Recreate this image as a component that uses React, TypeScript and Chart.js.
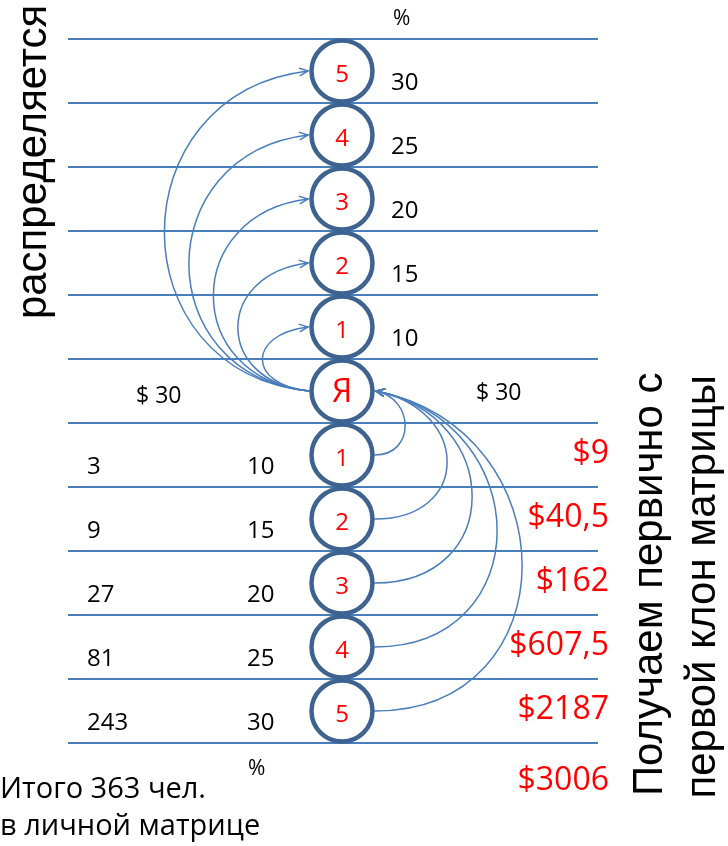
import { useEffect, useRef } from "react";
import { Chart, registerables } from "chart.js";

Chart.register(...registerables);

// ---- data ----
const upperLevels = ["5", "4", "3", "2", "1"];
const centreLabel = "Я";
const lowerLevels = ["1", "2", "3", "4", "5"];
const upperPercents = ["30", "25", "20", "15", "10"];
const lowerPeople = ["3", "9", "27", "81", "243"];
const lowerPercents = ["10", "15", "20", "25", "30"];
const lowerIncome = ["$9", "$40,5", "$162", "$607,5", "$2187"];
const totalIncome = "$3006";
const entryFee = "$ 30";
const percentSign = "%";
const leftTitle = "распределяется";
const rightTitle = ["Получаем первично с", "первой клон матрицы"];
const totalNote = ["Итого 363 чел.", "в личной матрице"];

// ---- styles ----
const LINE = "#4A7EBB";
const RING = "#3F6390";
const RED = "#FF0000";
const CAL = '"Open Sans", "Lato", "Liberation Sans", sans-serif';
const ARIAL = '"Liberation Sans", "Arimo", Arial, sans-serif';

const circleLabels = [...upperLevels, centreLabel, ...lowerLevels];
const centreRow = upperLevels.length + 0.5;

type TextItem = {
  text: string;
  x: number;
  y: number;
  size: number;
  color: string;
  family: string;
  align: CanvasTextAlign;
  rotate?: boolean;
};

function buildTexts(): TextItem[] {
  const t: TextItem[] = [];
  const black = "#000";
  t.push({ text: percentSign, x: 51, y: -0.22, size: 21, color: black, family: CAL, align: "left" });
  upperPercents.forEach((p, i) =>
    t.push({ text: p, x: 49, y: i + 0.8, size: 24, color: black, family: CAL, align: "left" })
  );
  circleLabels.forEach((c, i) =>
    t.push({
      text: c,
      x: 0,
      y: i + 0.67,
      size: c === centreLabel ? 32 : 24,
      color: RED,
      family: CAL,
      align: "center",
    })
  );
  t.push({ text: entryFee, x: -206, y: 5.69, size: 23, color: black, family: CAL, align: "left" });
  t.push({ text: entryFee, x: 134, y: 5.64, size: 23, color: black, family: CAL, align: "left" });
  const base = upperLevels.length + 1;
  lowerPeople.forEach((p, i) =>
    t.push({ text: p, x: -255, y: base + i + 0.8, size: 24, color: black, family: CAL, align: "left" })
  );
  lowerPercents.forEach((p, i) =>
    t.push({ text: p, x: -95, y: base + i + 0.8, size: 24, color: black, family: CAL, align: "left" })
  );
  lowerIncome.forEach((p, i) =>
    t.push({ text: p, x: 267, y: base + i + 0.62, size: 32, color: RED, family: CAL, align: "right" })
  );
  t.push({ text: totalIncome, x: 267, y: 11.73, size: 32, color: RED, family: CAL, align: "right" });
  t.push({ text: percentSign, x: -94, y: 11.5, size: 21, color: black, family: CAL, align: "left" });
  t.push({ text: totalNote[0], x: -342, y: 11.86, size: 29, color: black, family: CAL, align: "left" });
  t.push({ text: totalNote[1], x: -342, y: 12.43, size: 29, color: black, family: CAL, align: "left" });
  t.push({ text: leftTitle, x: -296, y: 1.92, size: 42, color: black, family: ARIAL, align: "center", rotate: true });
  t.push({ text: rightTitle[0], x: 320, y: 8.52, size: 42, color: black, family: ARIAL, align: "center", rotate: true });
  t.push({ text: rightTitle[1], x: 373, y: 8.56, size: 42, color: black, family: ARIAL, align: "center", rotate: true });
  return t;
}

const textPlugin = {
  id: "slideTexts",
  afterDatasetsDraw(chart: any) {
    const { ctx } = chart;
    const xs = chart.scales.x;
    const ys = chart.scales.y;
    ctx.save();
    for (const it of buildTexts()) {
      const px = xs.getPixelForValue(it.x);
      const py = ys.getPixelForValue(it.y);
      ctx.font = `${it.size}px ${it.family}`;
      ctx.fillStyle = it.color;
      ctx.textBaseline = "alphabetic";
      ctx.textAlign = it.align;
      if (it.rotate) {
        ctx.save();
        ctx.translate(px, py);
        ctx.rotate(-Math.PI / 2);
        ctx.fillText(it.text, 0, 0);
        ctx.restore();
      } else {
        ctx.fillText(it.text, px, py);
      }
    }
    ctx.restore();
  },
};

type P = [number, number];

function drawArrow(ctx: CanvasRenderingContext2D, p0: P, p1: P, p2: P, p3: P) {
  ctx.beginPath();
  ctx.moveTo(p0[0], p0[1]);
  ctx.bezierCurveTo(p1[0], p1[1], p2[0], p2[1], p3[0], p3[1]);
  ctx.stroke();
  const ang = Math.atan2(p3[1] - p2[1], p3[0] - p2[0]);
  const L = 9;
  const a = 0.42;
  ctx.beginPath();
  ctx.moveTo(p3[0] - L * Math.cos(ang - a), p3[1] - L * Math.sin(ang - a));
  ctx.lineTo(p3[0], p3[1]);
  ctx.lineTo(p3[0] - L * Math.cos(ang + a), p3[1] - L * Math.sin(ang + a));
  ctx.stroke();
}

const arrowPlugin = {
  id: "slideArrows",
  afterDatasetsDraw(chart: any) {
    const { ctx } = chart;
    const xs = chart.scales.x;
    const ys = chart.scales.y;
    const cx = xs.getPixelForValue(0);
    const R = 33;
    const yC = ys.getPixelForValue(centreRow);
    ctx.save();
    ctx.strokeStyle = LINE;
    ctx.lineWidth = 1.5;
    ctx.lineCap = "round";
    upperLevels.forEach((_, i) => {
      const n = upperLevels.length - i;
      const yT = ys.getPixelForValue(i + 0.5);
      const x0 = cx - R;
      const D = (22 + 24.5 * n) / 0.75;
      drawArrow(ctx, [x0, yC], [x0 - D, yC - 0.1 * D], [x0 - D, yT + 0.12 * D], [x0 - 1, yT]);
    });
    lowerLevels.forEach((_, i) => {
      const n = i + 1;
      const yS = ys.getPixelForValue(centreRow + 1 + i);
      const x0 = cx + R;
      const D = (n === 1 ? 30 : 22 + 25 * n) / 0.75;
      drawArrow(ctx, [x0, yS], [x0 + D, yS], [x0 + D, yC + 0.2 * D], [x0 + 1, yC]);
    });
    ctx.restore();
  },
};

export default function App() {
  const ref = useRef<HTMLCanvasElement | null>(null);
  useEffect(() => {
    if (!ref.current) return;
    const chart = new Chart(ref.current, {
      type: "scatter",
      data: {
        datasets: [
          {
            data: circleLabels.map((_, i) => ({ x: 0, y: i + 0.5 })),
            pointRadius: 30.5,
            pointHoverRadius: 30.5,
            pointBorderWidth: 4.5,
            pointBorderColor: RING,
            pointBackgroundColor: "#FFFFFF",
            clip: false,
          } as any,
        ],
      },
      options: {
        animation: false,
        responsive: false,
        devicePixelRatio: 1,
        events: [],
        layout: { padding: { left: 68, right: 130, top: 39, bottom: 103 } },
        plugins: { legend: { display: false }, tooltip: { enabled: false } },
        scales: {
          x: { type: "linear", min: -274, max: 256, display: false },
          y: {
            type: "linear",
            min: 0,
            max: 11,
            reverse: true,
            ticks: { display: false, stepSize: 1 },
            grid: { color: LINE, lineWidth: 2, drawTicks: false, tickLength: 0 },
            border: { display: false },
            afterFit: (s: any) => {
              s.width = 0;
            },
          },
        },
      },
      plugins: [arrowPlugin, textPlugin],
    });
    return () => chart.destroy();
  }, []);
  return (
    <div style={{ position: "fixed", left: 0, top: 0, width: 728, height: 846, background: "#fff" }}>
      <canvas ref={ref} width={728} height={846} style={{ width: 728, height: 846, display: "block" }} />
    </div>
  );
}
